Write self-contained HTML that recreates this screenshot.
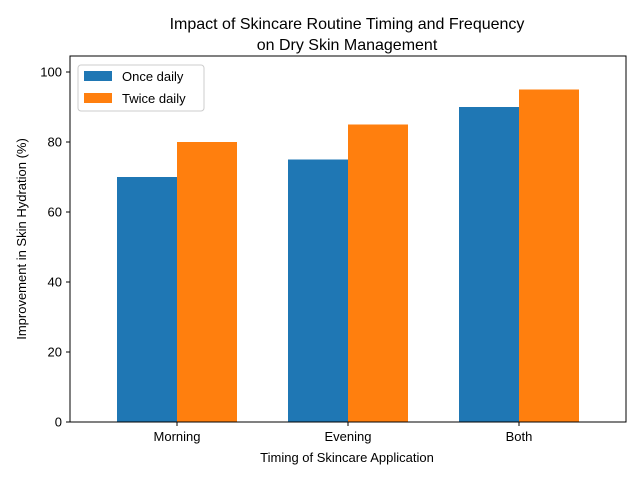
<!DOCTYPE html>
<html><head><meta charset="utf-8"><style>
body{margin:0;background:#fff;}
svg{display:block;font-family:"Liberation Sans","DejaVu Sans",sans-serif;}
</style></head><body>
<svg id="chart" width="640" height="480" xmlns="http://www.w3.org/2000/svg">
<text x="347" y="29" font-size="16" text-anchor="middle">Impact of Skincare Routine Timing and Frequency</text>
<text x="347" y="50" font-size="16" text-anchor="middle">on Dry Skin Management</text>
<g id="bars"></g>
<g id="yticks"></g>
<g id="xticks"></g>
<rect x="70" y="56" width="556" height="366" fill="none" stroke="#000" stroke-width="1"/>
<text x="347" y="462" font-size="13" text-anchor="middle">Timing of Skincare Application</text>
<text transform="translate(26,239) rotate(-90)" font-size="13" text-anchor="middle">Improvement in Skin Hydration (%)</text>
<g>
<rect x="78" y="65" width="126" height="46" rx="3" fill="#fff" fill-opacity="0.8" stroke="#ccc"/>
<rect x="84" y="71" width="28" height="10" fill="#1f77b4"/>
<text x="122" y="81" font-size="13">Once daily</text>
<rect x="84" y="93" width="28" height="10" fill="#ff7f0e"/>
<text x="122" y="103" font-size="13">Twice daily</text>
</g>
</svg>
<script>
const categories=["Morning","Evening","Both"];
const onceDaily=[70,75,90];
const twiceDaily=[80,85,95];
const yTicks=[0,20,40,60,80,100];
const NS="http://www.w3.org/2000/svg";
function y(v){return 422-v*3.5;}
function xc(i){return 177+i*171;}
const bars=document.getElementById('bars'),yt=document.getElementById('yticks'),xt=document.getElementById('xticks');
function mk(tag,attrs,parent){const e=document.createElementNS(NS,tag);for(const k in attrs)e.setAttribute(k,attrs[k]);parent.appendChild(e);return e;}
categories.forEach((c,i)=>{
  let b=mk('rect',{x:xc(i)-60,y:y(onceDaily[i]),width:60,height:422-y(onceDaily[i]),fill:'#1f77b4'},bars);
  
  
  let b2=mk('rect',{x:xc(i),y:y(twiceDaily[i]),width:60,height:422-y(twiceDaily[i]),fill:'#ff7f0e'},bars);
  
  
  mk('line',{x1:xc(i),x2:xc(i),y1:422,y2:426,stroke:'#000'},xt);
  let t=mk('text',{x:xc(i),y:441,'font-size':13,'text-anchor':'middle'},xt);
  t.textContent=c;
  
  
});
yTicks.forEach(v=>{
  mk('line',{x1:66,x2:70,y1:y(v),y2:y(v),stroke:'#000'},yt);
  let t=mk('text',{x:62,y:y(v)+4.5,'font-size':13,'text-anchor':'end'},yt);
  t.textContent=v;
  
  
});
</script>
</body></html>
